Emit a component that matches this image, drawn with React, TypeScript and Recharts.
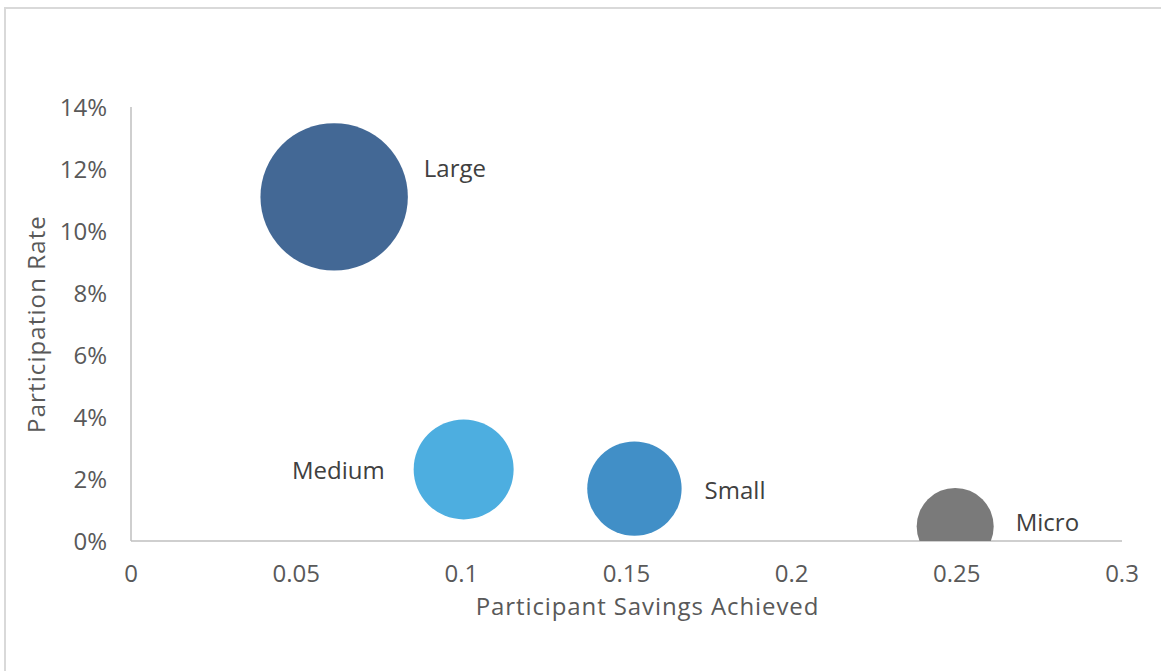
import React from 'react';
import { ScatterChart, Scatter, XAxis, YAxis, ZAxis, Label } from 'recharts';

const categories = ['Large', 'Medium', 'Small', 'Micro'];
const savingsAchieved = [0.0615, 0.1007, 0.1524, 0.2495];
const participationRate = [0.111, 0.0231, 0.0169, 0.0047];
const bubbleSize = [100, 46, 41, 27.3];
const xTicks = [0, 0.05, 0.1, 0.15, 0.2, 0.25, 0.3];
const xTickLabels = ['0', '0.05', '0.1', '0.15', '0.2', '0.25', '0.3'];
const yTicks = [0, 0.02, 0.04, 0.06, 0.08, 0.1, 0.12, 0.14];
const yTickLabels = ['0%', '2%', '4%', '6%', '8%', '10%', '12%', '14%'];

const data = categories.map((name, i) => ({
  name,
  x: savingsAchieved[i],
  y: participationRate[i],
  z: bubbleSize[i],
}));

const COLORS: Record<string, string> = {
  Large: '#436895',
  Medium: '#4daee0',
  Small: '#418fc7',
  Micro: '#7a7a7a',
};

// label placement relative to bubble edge: side, horizontal gap, baseline offset
const LABEL_PLACE: Record<string, { side: 'left' | 'right'; gap: number; dy: number }> = {
  Large: { side: 'right', gap: 16, dy: -20 },
  Medium: { side: 'left', gap: 29, dy: 10 },
  Small: { side: 'right', gap: 23, dy: 10 },
  Micro: { side: 'right', gap: 22, dy: 4.5 },
};

const FONT = '"Open Sans", sans-serif';
const FS = 24;

const Bubble = (props: any) => {
  const { cx, cy, width, payload } = props;
  const r = width / 2;
  const name = payload.name;
  const p = LABEL_PLACE[name];
  const tx = p.side === 'right' ? cx + r + p.gap : cx - r - p.gap;
  return (
    <g>
      <circle cx={cx} cy={cy} r={r} fill={COLORS[name]} />
      <text
        x={tx}
        y={cy + p.dy}
        textAnchor={p.side === 'right' ? 'start' : 'end'}
        fontFamily={FONT}
        fontSize={FS}
        fill="#404040"
      >
        {name}
      </text>
    </g>
  );
};

export default function App() {
  const maxR = 73.7;
  return (
    <div style={{ position: 'fixed', left: 0, top: 0, width: 1161, height: 671, overflow: 'hidden', background: '#fff' }}>
      <div
        style={{
          position: 'absolute',
          left: 4,
          top: 7,
          width: 1170,
          height: 680,
          border: '2px solid #d9d9d9',
          boxSizing: 'border-box',
        }}
      />
      <div style={{ position: 'absolute', left: 0, top: 0 }}>
        <ScatterChart width={1161} height={671} margin={{ top: 107, right: 39, bottom: 40, left: 51 }}>
          <XAxis
            type="number"
            dataKey="x"
            domain={[0, 0.3]}
            ticks={xTicks}
            tickFormatter={(v: number) => xTickLabels[xTicks.indexOf(v)] ?? String(v)}
            height={90}
            tickLine={false}
            tickSize={0}
            tickMargin={24}
            axisLine={{ stroke: '#bfbfbf', strokeWidth: 1.5 }}
            tick={{ fill: '#595959', fontSize: FS, fontFamily: FONT }}
            interval={0}
          >
            <Label
              content={(props: any) => {
                const vb = props.viewBox;
                return (
                  <text
                    x={vb.x + vb.width / 2 + 21}
                    y={vb.y + 74}
                    textAnchor="middle"
                    fontFamily={FONT}
                    fontSize={FS}
                    letterSpacing={0.9}
                    fill="#595959"
                  >
                    Participant Savings Achieved
                  </text>
                );
              }}
            />
          </XAxis>
          <YAxis
            type="number"
            dataKey="y"
            domain={[0, 0.14]}
            ticks={yTicks}
            tickFormatter={(v: number) => yTickLabels[yTicks.findIndex((t) => Math.abs(t - v) < 1e-9)] ?? ''}
            width={80}
            tickLine={false}
            tickSize={0}
            tickMargin={24}
            allowDataOverflow
            axisLine={{ stroke: '#bfbfbf', strokeWidth: 1.5 }}
            tick={{ fill: '#595959', fontSize: FS, fontFamily: FONT }}
            interval={0}
          >
            <Label
              content={(props: any) => {
                const vb = props.viewBox;
                const cx = 35;
                const cy = vb.y + vb.height / 2;
                return (
                  <text
                    x={cx}
                    y={cy}
                    transform={`rotate(-90, ${cx}, ${cy})`}
                    textAnchor="middle"
                    dominantBaseline="central"
                    fontFamily={FONT}
                    fontSize={FS}
                    letterSpacing={1.1}
                    fill="#595959"
                  >
                    Participation Rate
                  </text>
                );
              }}
            />
          </YAxis>
          <ZAxis type="number" dataKey="z" domain={[0, 100]} range={[0, Math.PI * maxR * maxR]} />
          <Scatter data={data} shape={Bubble} isAnimationActive={false} />
        </ScatterChart>
      </div>
    </div>
  );
}
